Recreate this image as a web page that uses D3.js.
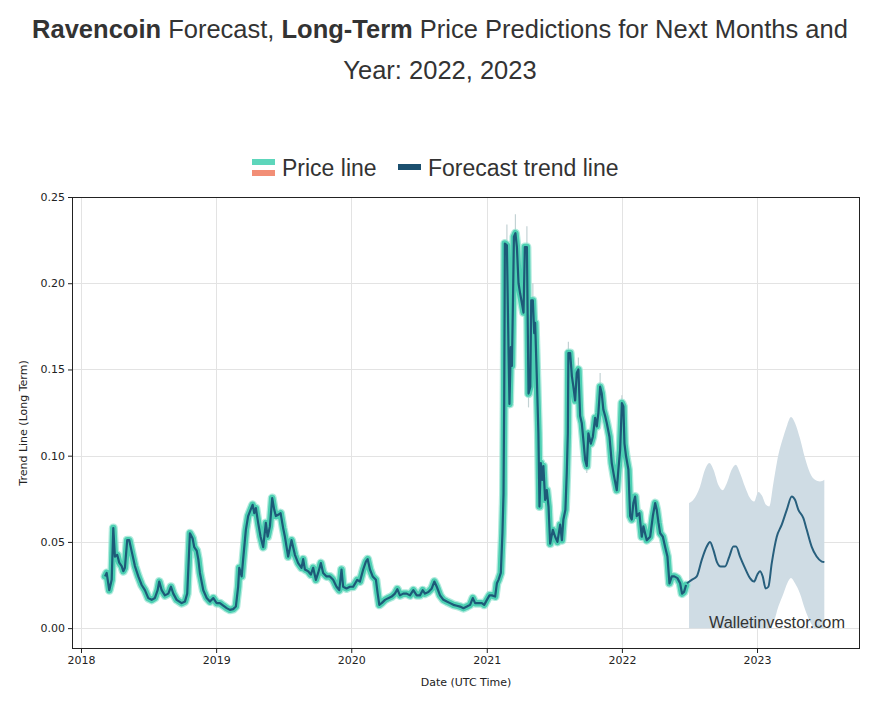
<!DOCTYPE html>
<html><head><meta charset="utf-8">
<script src="https://cdn.jsdelivr.net/npm/d3@7"></script>
<style>
html,body{margin:0;padding:0;background:#fff;}
svg{display:block;}
</style></head>
<body>
<svg id="chart" width="886" height="709"></svg>
<script>
// ---- Data (dates as decimal years) ----
const priceT = [2018.178,2018.190,2018.209,2018.227,2018.239,2018.251,2018.268,2018.283,2018.301,2018.313,2018.325,2018.342,2018.357,2018.375,2018.399,2018.424,2018.449,2018.473,2018.498,2018.523,2018.547,2018.567,2018.579,2018.597,2018.621,2018.646,2018.666,2018.683,2018.708,2018.745,2018.769,2018.786,2018.806,2018.826,2018.838,2018.856,2018.868,2018.880,2018.905,2018.930,2018.954,2018.979,2019.004,2019.028,2019.053,2019.078,2019.102,2019.126,2019.146,2019.163,2019.171,2019.189,2019.200,2019.220,2019.237,2019.255,2019.270,2019.282,2019.294,2019.311,2019.329,2019.348,2019.368,2019.381,2019.398,2019.415,2019.430,2019.442,2019.459,2019.477,2019.496,2019.509,2019.533,2019.558,2019.583,2019.607,2019.632,2019.644,2019.657,2019.681,2019.701,2019.718,2019.738,2019.755,2019.775,2019.792,2019.817,2019.842,2019.866,2019.891,2019.911,2019.928,2019.940,2019.965,2019.990,2020.014,2020.044,2020.064,2020.088,2020.108,2020.121,2020.138,2020.158,2020.182,2020.195,2020.207,2020.224,2020.249,2020.273,2020.298,2020.322,2020.340,2020.359,2020.384,2020.409,2020.433,2020.458,2020.483,2020.507,2020.527,2020.544,2020.569,2020.594,2020.613,2020.631,2020.655,2020.680,2020.705,2020.729,2020.754,2020.779,2020.803,2020.828,2020.853,2020.877,2020.897,2020.914,2020.939,2020.964,2020.981,2021.001,2021.020,2021.038,2021.062,2021.075,2021.087,2021.104,2021.116,2021.124,2021.129,2021.134,2021.149,2021.161,2021.168,2021.178,2021.186,2021.193,2021.201,2021.212,2021.223,2021.235,2021.247,2021.260,2021.272,2021.282,2021.297,2021.309,2021.322,2021.329,2021.341,2021.351,2021.358,2021.371,2021.382,2021.390,2021.400,2021.410,2021.419,2021.432,2021.444,2021.457,2021.469,2021.489,2021.506,2021.523,2021.543,2021.556,2021.567,2021.582,2021.592,2021.600,2021.604,2021.617,2021.630,2021.641,2021.654,2021.666,2021.678,2021.691,2021.703,2021.715,2021.728,2021.740,2021.752,2021.770,2021.785,2021.802,2021.814,2021.826,2021.839,2021.851,2021.863,2021.876,2021.888,2021.908,2021.925,2021.942,2021.962,2021.974,2021.987,2022.000,2022.011,2022.019,2022.031,2022.048,2022.061,2022.073,2022.085,2022.098,2022.110,2022.129,2022.147,2022.159,2022.184,2022.209,2022.229,2022.246,2022.258,2022.271,2022.283,2022.303,2022.320,2022.337,2022.352,2022.369,2022.388,2022.411,2022.431,2022.445,2022.460,2022.475];
const priceV = [0.030,0.032,0.022,0.028,0.058,0.0415,0.0425,0.038,0.036,0.033,0.035,0.051,0.051,0.0445,0.036,0.030,0.025,0.022,0.0174,0.0164,0.0175,0.022,0.027,0.022,0.019,0.020,0.024,0.020,0.0164,0.0145,0.0154,0.020,0.055,0.052,0.047,0.045,0.040,0.032,0.022,0.0175,0.0154,0.0174,0.0145,0.0145,0.013,0.0116,0.0106,0.011,0.0125,0.024,0.035,0.030,0.040,0.057,0.065,0.0686,0.0715,0.0667,0.0696,0.061,0.053,0.047,0.061,0.053,0.059,0.0754,0.0686,0.065,0.0657,0.0667,0.058,0.053,0.0415,0.051,0.0425,0.0377,0.035,0.040,0.034,0.033,0.031,0.035,0.028,0.032,0.0377,0.032,0.030,0.030,0.028,0.024,0.022,0.034,0.024,0.023,0.024,0.024,0.028,0.027,0.034,0.0386,0.040,0.034,0.030,0.028,0.020,0.0135,0.0145,0.0164,0.0174,0.0183,0.020,0.0226,0.019,0.020,0.020,0.019,0.022,0.019,0.019,0.022,0.020,0.021,0.023,0.027,0.024,0.019,0.0164,0.0154,0.0145,0.0135,0.013,0.0125,0.0116,0.0125,0.0135,0.0174,0.0145,0.0145,0.0145,0.0135,0.0164,0.019,0.019,0.0183,0.026,0.028,0.032,0.055,0.078,0.132,0.223,0.222,0.161,0.130,0.163,0.152,0.185,0.227,0.229,0.221,0.200,0.194,0.1885,0.183,0.221,0.221,0.136,0.140,0.190,0.190,0.171,0.177,0.144,0.113,0.0705,0.0957,0.086,0.094,0.0744,0.080,0.0705,0.049,0.057,0.053,0.050,0.060,0.051,0.063,0.0686,0.090,0.113,0.1595,0.1595,0.146,0.140,0.132,0.148,0.150,0.123,0.119,0.109,0.0977,0.094,0.113,0.107,0.111,0.122,0.117,0.1247,0.140,0.136,0.1266,0.123,0.119,0.111,0.0957,0.088,0.080,0.092,0.1034,0.1305,0.1285,0.107,0.0995,0.092,0.065,0.063,0.0725,0.0763,0.065,0.0667,0.053,0.059,0.051,0.053,0.065,0.0725,0.0686,0.061,0.055,0.053,0.047,0.0415,0.026,0.030,0.030,0.029,0.026,0.020,0.021,0.025];

// faint high/low wicks: [time, from, to]
const wicks = [[2021.149,0.222,0.234],[2021.212,0.229,0.240],[2021.297,0.221,0.233],[2021.341,0.190,0.200],[2021.309,0.136,0.128],[2021.604,0.1595,0.166],[2021.678,0.150,0.157],[2021.839,0.140,0.148],[2022.000,0.1305,0.135],[2021.740,0.094,0.090]];

const forecastT = [2022.481,2022.517,2022.554,2022.591,2022.628,2022.652,2022.677,2022.702,2022.731,2022.763,2022.795,2022.825,2022.845,2022.874,2022.911,2022.948,2022.978,2023.002,2023.022,2023.042,2023.064,2023.084,2023.109,2023.146,2023.183,2023.220,2023.257,2023.281,2023.306,2023.343,2023.368,2023.404,2023.441,2023.479,2023.498];
const forecastV = [0.026,0.028,0.030,0.0396,0.0473,0.050,0.0454,0.0386,0.0357,0.0357,0.0415,0.0473,0.0473,0.0415,0.0348,0.029,0.027,0.031,0.033,0.030,0.023,0.024,0.0377,0.053,0.060,0.0686,0.0763,0.0744,0.0686,0.0638,0.057,0.0473,0.0415,0.0386,0.0383];

const bandT = [2022.497,2022.529,2022.578,2022.615,2022.647,2022.677,2022.714,2022.746,2022.776,2022.813,2022.842,2022.874,2022.911,2022.948,2022.978,2023.010,2023.035,2023.067,2023.091,2023.121,2023.158,2023.195,2023.224,2023.251,2023.281,2023.318,2023.355,2023.392,2023.429,2023.466,2023.498];
const bandUpper = [0.0725,0.0744,0.082,0.092,0.0957,0.092,0.083,0.080,0.084,0.092,0.0947,0.090,0.082,0.0754,0.0734,0.079,0.077,0.0715,0.0705,0.084,0.1005,0.111,0.118,0.1224,0.119,0.110,0.0986,0.090,0.086,0.085,0.086];
const bandLower = [0,0,0,0,0,0,0,0,0,0,0,0,0,0,0,0,0,0,0,0.003,0.0125,0.020,0.026,0.029,0.026,0.020,0.011,0.004,0,0,0];

const yTicks = [0.00,0.05,0.10,0.15,0.20,0.25];
const xTickYears = [2018,2019,2020,2021,2022,2023];

// ---- helpers ----
function fy(t){const y=Math.floor(t);const s=Date.UTC(y,0,1),e=Date.UTC(y+1,0,1);return new Date(s+(t-y)*(e-s));}

const svg = d3.select("#chart");
const L=72,R=860,T=197,B=649;

const x = d3.scaleUtc().domain([fy(2017.9334),fy(2023.762)]).range([L,R]);
const y = d3.scaleLinear().domain([-0.0121,0.25]).range([B,T]);

// Title
const title = svg.append("text").attr("x",440).attr("y",38).attr("text-anchor","middle")
  .style("font-family","'Liberation Sans',Arial,sans-serif").style("font-size","25.5px").attr("fill","#333");
title.append("tspan").attr("font-weight","bold").text("Ravencoin");
title.append("tspan").text(" Forecast, ");
title.append("tspan").attr("font-weight","bold").text("Long-Term");
title.append("tspan").text(" Price Predictions for Next Months and");
svg.append("text").attr("x",440).attr("y",79).attr("text-anchor","middle")
  .style("font-family","'Liberation Sans',Arial,sans-serif").style("font-size","25.5px").attr("fill","#333")
  .text("Year: 2022, 2023");

// Legend
const lg = svg.append("g").style("font-family","'Liberation Sans',Arial,sans-serif").style("font-size","23px").attr("fill","#333");
lg.append("rect").attr("x",252).attr("y",159).attr("width",23).attr("height",6).attr("fill","#5dd6bb");
lg.append("rect").attr("x",252).attr("y",170).attr("width",23).attr("height",6).attr("fill","#f28e76");
lg.append("text").attr("x",282).attr("y",176).text("Price line");
lg.append("rect").attr("x",398).attr("y",164).attr("width",23).attr("height",6).attr("fill","#1b4f6e");
lg.append("text").attr("x",428).attr("y",176).text("Forecast trend line");

// Grid
const grid = svg.append("g").attr("stroke","#e3e3e3").attr("stroke-width",1);
yTicks.forEach(v=>grid.append("line").attr("x1",L).attr("x2",R).attr("y1",Math.round(y(v))+0.5).attr("y2",Math.round(y(v))+0.5));
xTickYears.forEach(v=>grid.append("line").attr("y1",T).attr("y2",B).attr("x1",Math.round(x(fy(v)))+0.5).attr("x2",Math.round(x(fy(v)))+0.5));

// clip
svg.append("defs").append("clipPath").attr("id","clip").append("rect").attr("x",L).attr("y",T).attr("width",R-L).attr("height",B-T);
const plot = svg.append("g").attr("clip-path","url(#clip)");

// forecast band
const bandData = bandT.map((t,i)=>({t,u:bandUpper[i],l:bandLower[i]}));
plot.append("path").datum(bandData)
  .attr("d",d3.area().x(d=>x(fy(d.t))).y0(d=>y(d.l)).y1(d=>y(d.u)).curve(d3.curveMonotoneX))
  .attr("fill","#cfdce4");

// wicks
plot.append("g").selectAll("line").data(wicks).join("line")
  .attr("x1",d=>x(fy(d[0]))).attr("x2",d=>x(fy(d[0])))
  .attr("y1",d=>y(d[1])).attr("y2",d=>y(d[2]))
  .attr("stroke","#c3d2d4").attr("stroke-width",1.2);

// price line
const priceData = priceT.map((t,i)=>({t,v:priceV[i]}));
const pline = d3.line().x(d=>x(fy(d.t))).y(d=>y(d.v));
plot.append("path").datum(priceData).attr("d",pline).attr("fill","none")
  .attr("stroke","#8fe3cf").attr("stroke-width",9).attr("stroke-linejoin","round").attr("stroke-linecap","round").attr("opacity",0.7);
plot.append("path").datum(priceData).attr("d",pline).attr("fill","none")
  .attr("stroke","#4ccfb2").attr("stroke-width",6.5).attr("stroke-linejoin","round").attr("stroke-linecap","round");
plot.append("path").datum(priceData).attr("d",pline).attr("fill","none")
  .attr("stroke","#1d5a78").attr("stroke-width",2.2).attr("stroke-linejoin","round");

// forecast line
const fData = forecastT.map((t,i)=>({t,v:forecastV[i]}));
plot.append("path").datum(fData)
  .attr("d",d3.line().x(d=>x(fy(d.t))).y(d=>y(d.v)).curve(d3.curveMonotoneX))
  .attr("fill","none").attr("stroke","#275f7d").attr("stroke-width",2);

// axes
const axFont = "'DejaVu Sans',sans-serif";
const xAxis = svg.append("g").attr("transform",`translate(0,${B})`)
  .call(d3.axisBottom(x).tickValues(xTickYears.map(fy)).tickFormat(d3.utcFormat("%Y")).tickSize(4).tickPadding(3));
const yAxis = svg.append("g").attr("transform",`translate(${L},0)`)
  .call(d3.axisLeft(y).tickValues(yTicks).tickFormat(d3.format(".2f")).tickSize(4).tickPadding(3));
[xAxis,yAxis].forEach(a=>{
  a.select(".domain").remove();
  a.selectAll("text").style("font-family",axFont).style("font-size","11px").attr("fill","#222");
  a.selectAll("line").attr("stroke","#222");
});
// frame
svg.append("rect").attr("x",L+0.5).attr("y",T+0.5).attr("width",R-L-1).attr("height",B-T-1)
  .attr("fill","none").attr("stroke","#222").attr("stroke-width",1);

// axis labels
svg.append("text").attr("x",(L+R)/2).attr("y",686).attr("text-anchor","middle")
  .style("font-family",axFont).style("font-size","11px").attr("fill","#222").text("Date (UTC Time)");
svg.append("text").attr("transform",`translate(27,${(T+B)/2}) rotate(-90)`).attr("text-anchor","middle")
  .style("font-family",axFont).style("font-size","11px").attr("fill","#222").text("Trend Line (Long Term)");

// watermark
svg.append("text").attr("x",845).attr("y",628).attr("text-anchor","end")
  .style("font-family","'Liberation Sans',Arial,sans-serif").style("font-size","16.3px").attr("fill","#333")
  .text("Walletinvestor.com");
</script>
</body></html>
